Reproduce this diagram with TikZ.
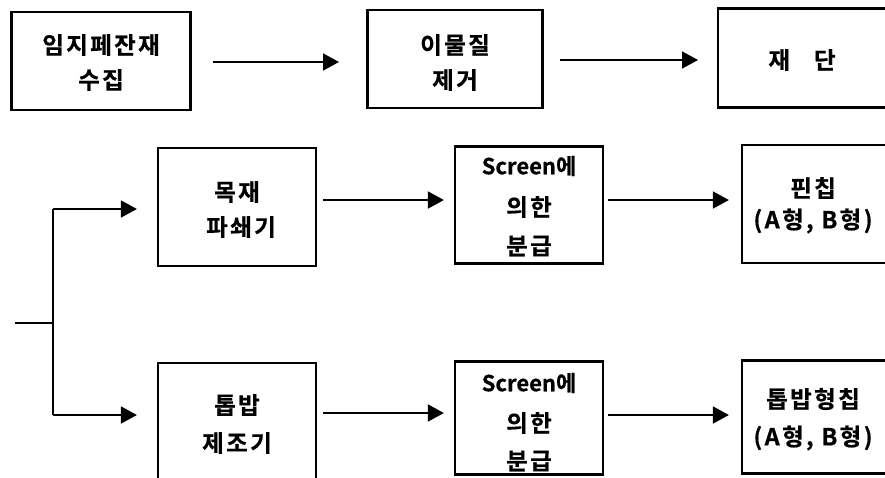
\documentclass[tikz,border=0pt]{standalone}
\usepackage{fontspec}
\setmainfont{Noto Sans CJK KR}[BoldFont={* Bold}]
\newfontfamily\kr[LetterSpace=10,FakeBold=0.6]{Noto Sans CJK KR Bold}
\newfontfamily\krplain[FakeBold=0.4]{Noto Sans CJK KR Bold}
\usetikzlibrary{arrows.meta}
\tikzset{
  stepbox/.style={draw=black, line width=2.2pt, fill=white, inner sep=0pt},
  lbl/.style={font=\kr\fontsize{23.5}{23.5}\selectfont, inner sep=0pt, anchor=center},
  scr/.style={font=\krplain\fontsize{22}{22}\selectfont, inner sep=0pt, anchor=center},
  flow/.style={line width=1.6pt, -{Triangle[length=16pt,width=17pt]}},
  wire/.style={line width=1.6pt},
}
\begin{document}
\begin{tikzpicture}[x=1pt,y=-1pt]
\useasboundingbox (0,0) rectangle (885,477);
\clip (0,0) rectangle (885,477);
% row 1
\node[stepbox, minimum width=179pt, minimum height=98pt] (b1) at (101,61) {};
\node[lbl] (b1a) at (101,45) {임지페잔재};
\node[lbl] (b1b) at (101,80) {수집};
\node[stepbox, minimum width=175pt, minimum height=98pt] (b2) at (455,59) {};
\node[lbl] (b2a) at (455,45) {이물질};
\node[lbl] (b2b) at (455,80) {제거};
\node[stepbox, minimum width=180pt, minimum height=99pt] (b3) at (808,58) {};
\node[lbl] (b3a) at (802,60) {재\hspace{24pt}단};
\coordinate (a1s) at (213,62);
\coordinate (a1e) at (339,62);
\coordinate (a2s) at (560,60);
\coordinate (a2e) at (698,60);
\draw[flow] (a1s) -- (a1e);
\draw[flow] (a2s) -- (a2e);
% row 2
\node[stepbox, minimum width=158pt, minimum height=118pt] (c1) at (237,207) {};
\node[lbl] (c1a) at (237,192) {목재};
\node[lbl] (c1b) at (241,227) {파쇄기};
\node[stepbox, minimum width=148pt, minimum height=117pt] (c2) at (529,205) {};
\node[scr] (c2a) at (529,166) {Screen에};
\node[lbl] (c2b) at (529,207) {의한};
\node[lbl] (c2c) at (529,246) {분급};
\node[stepbox, minimum width=150pt, minimum height=118pt] (c3) at (817,204) {};
\node[lbl] (c3a) at (813,188) {핀칩};
\node[lbl] (c3b) at (813,221) {(A형, B형)};
% row 3
\node[stepbox, minimum width=158pt, minimum height=130pt] (d1) at (237,428) {};
\node[lbl] (d1a) at (237,405) {톱밥};
\node[lbl] (d1b) at (237,443) {제조기};
\node[stepbox, minimum width=148pt, minimum height=113pt] (d2) at (529,418) {};
\node[scr] (d2a) at (529,383) {Screen에};
\node[lbl] (d2b) at (529,423) {의한};
\node[lbl] (d2c) at (529,461) {분급};
\node[stepbox, minimum width=150pt, minimum height=113pt] (d3) at (817,417) {};
\node[lbl] (d3a) at (813,399) {톱밥형칩};
\node[lbl] (d3b) at (813,438) {(A형, B형)};
% branch
\coordinate (st) at (15,323);
\coordinate (br) at (53,323);
\coordinate (brt) at (53,209);
\coordinate (brb) at (53,415);
\draw[wire] (st) -- (br);
\draw[wire] (brt) -- (brb);
\draw[flow] (brt) -- ([xshift=-20pt]c1.west |- brt);
\draw[flow] (brb) -- ([xshift=-20pt]d1.west |- brb);
\draw[flow] ([xshift=6pt]c1.east |- 0,200) -- ([xshift=-10pt]c2.west |- 0,200);
\draw[flow] ([xshift=4pt]c2.east |- 0,200) -- ([xshift=-12pt]c3.west |- 0,200);
\draw[flow] ([xshift=6pt]d1.east |- 0,413) -- ([xshift=-10pt]d2.west |- 0,413);
\draw[flow] ([xshift=4pt]d2.east |- 0,415) -- ([xshift=-12pt]d3.west |- 0,415);
\end{tikzpicture}
\end{document}
